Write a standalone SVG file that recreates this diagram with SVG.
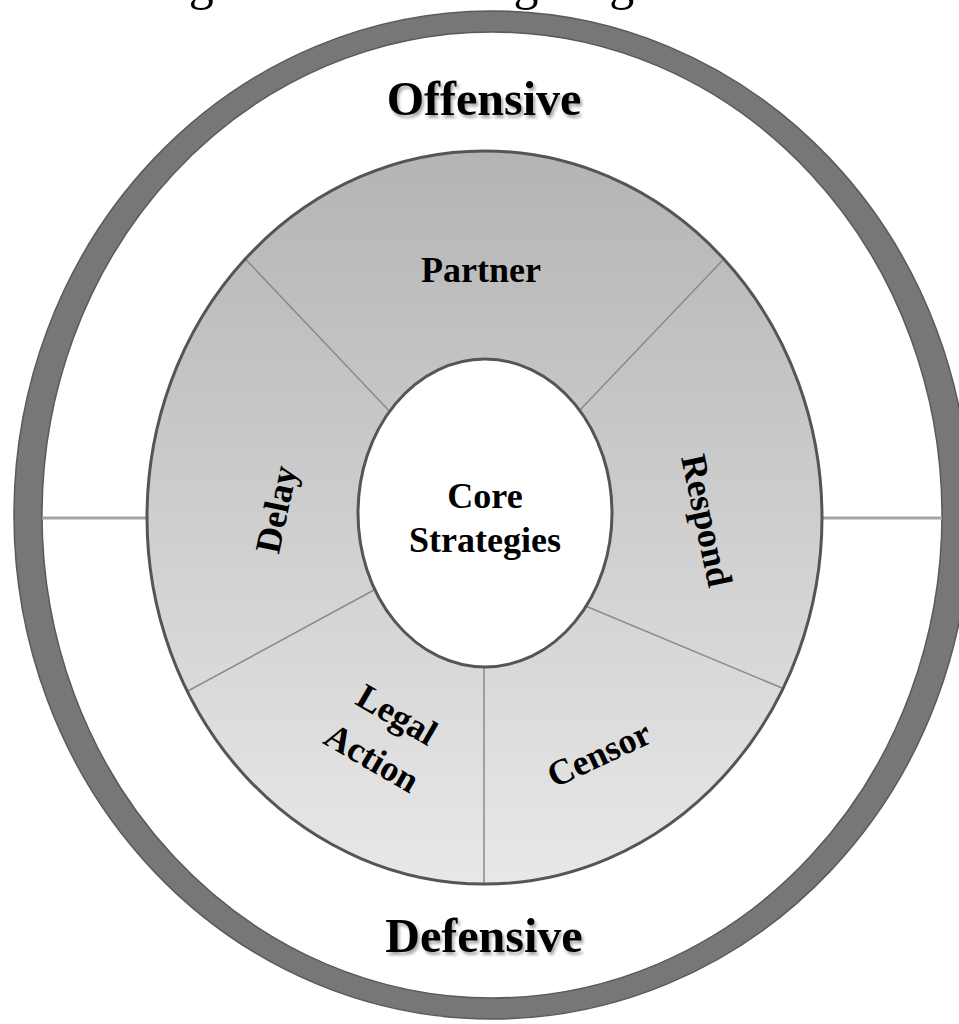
<svg xmlns="http://www.w3.org/2000/svg" width="959" height="1024" viewBox="0 0 959 1024">
  <style>
    .lbl { font-family: "Liberation Serif", "Times New Roman", serif; font-weight: bold; fill: #000; text-anchor: middle; }
    .big { font-size: 48px; }
    .mid { font-size: 36px; }
    .div { stroke: #8a8a8a; stroke-width: 1.5; fill: none; }
    .ringline { stroke: #a3a3a3; stroke-width: 3; fill: none; }
  </style>
  <defs>
    <linearGradient id="midGrad" gradientUnits="userSpaceOnUse" x1="0" y1="151" x2="0" y2="884">
      <stop offset="0" stop-color="#b4b4b4"/>
      <stop offset="1" stop-color="#e8e8e8"/>
    </linearGradient>
    <clipPath id="midClip">
      <ellipse cx="484.5" cy="517.5" rx="337.5" ry="366.5"/>
    </clipPath>
    <filter id="shadow" x="-10%" y="-20%" width="120%" height="150%">
      <feDropShadow dx="2" dy="3" stdDeviation="1.5" flood-color="#000" flood-opacity="0.35"/>
    </filter>
  </defs>

  <rect width="959" height="1024" fill="#fff"/>

  <text x="72" y="-1" font-family="Liberation Serif, serif" font-size="50" fill="#000">Strategies for Handling Negative Social Media</text>

  <g id="outer-ring">
    <path d="M14,515 a478,504 0 1,0 956,0 a478,504 0 1,0 -956,0 Z M42,515 a450,483 0 1,0 900,0 a450,483 0 1,0 -900,0 Z" fill="#777" fill-rule="evenodd" stroke="#5a5a5a" stroke-width="1.5"/>
  </g>

  <g id="middle-ring">
    <ellipse cx="484.5" cy="517.5" rx="337.5" ry="366.5" fill="url(#midGrad)"/>
  </g>

  <g id="connectors">
    <line class="ringline" x1="42" y1="518" x2="147" y2="518"/>
    <line class="ringline" x1="822" y1="518" x2="942" y2="518"/>
    <g clip-path="url(#midClip)">
      <line class="div" x1="200" y1="211" x2="430" y2="454"/>
      <line class="div" x1="760" y1="221" x2="540" y2="452"/>
      <line class="div" x1="140" y1="717" x2="420" y2="565"/>
      <line class="div" x1="830" y1="708" x2="540" y2="587"/>
      <line class="div" x1="484" y1="900" x2="484" y2="640"/>
    </g>
  </g>

  <ellipse cx="484.5" cy="517.5" rx="337.5" ry="366.5" fill="none" stroke="#555" stroke-width="3"/>

  <g id="core">
    <ellipse cx="485" cy="513" rx="127" ry="154" fill="#fff" stroke="#555" stroke-width="3"/>
    <text class="lbl mid" x="485" y="508">Core</text>
    <text class="lbl mid" x="485" y="552">Strategies</text>
  </g>

  <g id="offensive">
    <text class="lbl big" x="484" y="115" filter="url(#shadow)">Offensive</text>
  </g>
  <g id="defensive">
    <text class="lbl big" x="484" y="952" filter="url(#shadow)">Defensive</text>
  </g>

  <g id="partner">
    <text class="lbl mid" x="481" y="282">Partner</text>
  </g>
  <g id="delay">
    <text class="lbl mid" transform="translate(288,512) rotate(-78)" x="0" y="0">Delay</text>
  </g>
  <g id="respond">
    <text class="lbl mid" transform="translate(695,523) rotate(78)" x="0" y="0">Respond</text>
  </g>
  <g id="legal-action">
    <text class="lbl mid" transform="translate(391,725) rotate(30)" x="0" y="0">Legal</text>
    <text class="lbl mid" transform="translate(391,725) rotate(30)" x="0" y="50">Action</text>
  </g>
  <g id="censor">
    <text class="lbl mid" transform="translate(604,765) rotate(-25)" x="0" y="0">Censor</text>
  </g>
</svg>
